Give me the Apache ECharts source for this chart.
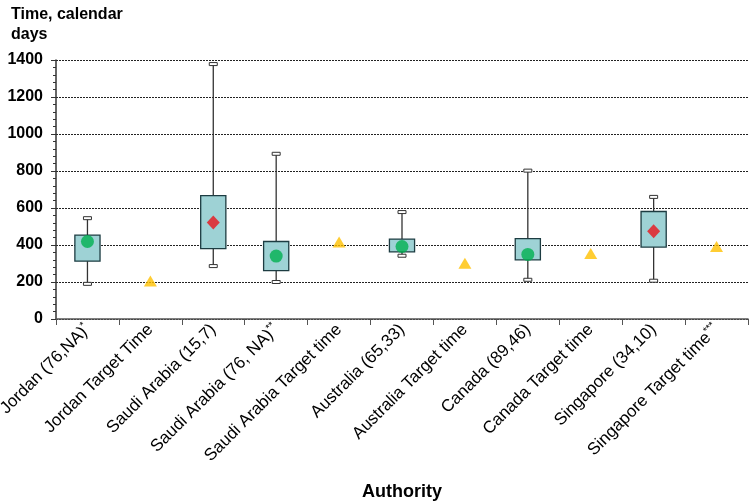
<!DOCTYPE html>
<html><head><meta charset="utf-8">
<script src="https://cdn.jsdelivr.net/npm/echarts@6/dist/echarts.min.js"></script>
<style>html,body{margin:0;padding:0;background:#fff}#c{width:750px;height:502px}</style>
</head><body><div id="c"></div>
<script>
var categories = ['Jordan (76,NA)*','Jordan Target Time','Saudi Arabia (15,7)','Saudi Arabia (76, NA)**','Saudi Arabia Target time','Australia (65,33)','Australia Target time','Canada (89,46)','Canada Target time','Singapore (34,10)','Singapore Target time***'];
// [categoryIndex, min, Q1, Q3, max]
var boxData = [
  [0, 190, 313, 453, 545],
  [2, 286, 380, 667, 1378],
  [3, 200, 261, 419, 893],
  [5, 342, 363, 432, 578],
  [7, 212, 320, 435, 802],
  [9, 207, 389, 581, 660]
];
var medianData = [[0, 419], [3, 340], [5, 392], [7, 349]];
var meanData = [[2, 522], [9, 475]];
var targetData = [[1, 206], [4, 416], [6, 302], [8, 354], [10, 392]];
var yTicks = [0, 200, 400, 600, 800, 1000, 1200, 1400];

function fmtLabel(v) {
  var m = v.match(/^(.*?)(\*+)$/);
  if (m) return m[1] + '{sup|' + m[2] + '}';
  return v;
}

var chart = echarts.init(document.getElementById('c'));
chart.setOption({
  animation: false,
  textStyle: {fontFamily: 'Liberation Sans, Arial, sans-serif'},
  grid: {left: 56, right: 2, top: 60, bottom: 183, containLabel: false, outerBoundsMode: 'none'},
  title: {
    text: 'Time, calendar\ndays', left: 6, top: 0,
    textStyle: {fontSize: 16, fontWeight: 'bold', color: '#000', lineHeight: 20, fontFamily: 'Liberation Sans, Arial, sans-serif'}
  },
  xAxis: {
    type: 'category', data: categories, boundaryGap: true,
    name: 'Authority', nameLocation: 'middle', nameGap: 164,
    nameTextStyle: {fontSize: 18, fontWeight: 'bold', color: '#000'},
    axisLine: {lineStyle: {color: '#555', width: 1.5}},
    axisTick: {show: true, alignWithLabel: false, length: 6, lineStyle: {color: '#555'}},
    axisLabel: {
      rotate: 45, interval: 0, fontSize: 17, color: '#000', margin: 8,
      formatter: fmtLabel,
      rich: {sup: {fontSize: 10, verticalAlign: 'top', padding: [0, 0, 9, 0], color: '#000'}}
    },
    splitLine: {show: false}
  },
  yAxis: {
    type: 'value', min: yTicks[0], max: yTicks[yTicks.length - 1], interval: 200,
    axisLine: {show: true, lineStyle: {color: '#333', width: 1.5}},
    axisTick: {show: true, length: 5, inside: false, lineStyle: {color: '#333'}},
    minorTick: {show: true, splitNumber: 5, length: 3, lineStyle: {color: '#333'}},
    axisLabel: {fontSize: 16, fontWeight: 'bold', color: '#000', margin: 13, formatter: function (v) { return String(v); }},
    splitLine: {show: true, lineStyle: {color: '#222', type: [2, 1], width: 1}}
  },
  series: [
    {
      type: 'custom',
      data: boxData,
      encode: {x: 0, y: [1, 2, 3, 4]},
      z: 2,
      renderItem: function (params, api) {
        var idx = api.value(0);
        var pMin = api.coord([idx, api.value(1)]);
        var pQ1 = api.coord([idx, api.value(2)]);
        var pQ3 = api.coord([idx, api.value(3)]);
        var pMax = api.coord([idx, api.value(4)]);
        var bw = api.size([1, 0])[0] * 0.4;
        var cx = pMin[0];
        var capW = 8, capH = 3;
        var wStyle = {stroke: '#333', lineWidth: 1.3};
        return {
          type: 'group',
          children: [
            {type: 'line', shape: {x1: cx, y1: pMax[1], x2: cx, y2: pQ3[1]}, style: wStyle},
            {type: 'line', shape: {x1: cx, y1: pQ1[1], x2: cx, y2: pMin[1]}, style: wStyle},
            {type: 'rect', shape: {x: cx - capW / 2, y: pMax[1] - capH / 2, width: capW, height: capH}, style: {fill: '#fff', stroke: '#333', lineWidth: 1}},
            {type: 'rect', shape: {x: cx - capW / 2, y: pMin[1] - capH / 2, width: capW, height: capH}, style: {fill: '#fff', stroke: '#333', lineWidth: 1}},
            {type: 'rect', shape: {x: cx - bw / 2, y: pQ3[1], width: bw, height: pQ1[1] - pQ3[1]}, style: {fill: '#9ed2d5', stroke: '#1d3c42', lineWidth: 1.3}}
          ]
        };
      }
    },
    {
      type: 'scatter', data: medianData, symbol: 'circle', symbolSize: 13, z: 5,
      itemStyle: {color: '#00b050'}
    },
    {
      type: 'scatter', data: meanData, symbol: 'diamond', symbolSize: [13, 14], z: 5,
      itemStyle: {color: '#e8141b'}
    },
    {
      type: 'scatter', data: targetData, symbol: 'triangle', symbolSize: [13, 11], z: 5,
      itemStyle: {color: '#ffc000'}
    }
  ]
});
</script>
</body></html>
